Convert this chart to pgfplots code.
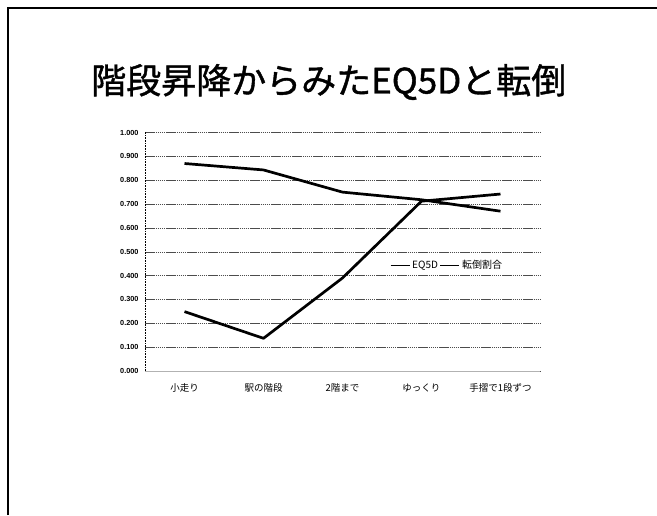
\documentclass[border=0pt]{standalone}
\usepackage{pgfplots}
\pgfplotsset{compat=1.18}
\usepackage{fontspec}
\setmainfont{Liberation Sans}
\newfontfamily\jp{Noto Sans CJK JP}
\newfontfamily\jpt[FakeBold=1.2]{Noto Sans CJK JP}
\begin{document}
\begin{tikzpicture}[x=1pt,y=1pt]
\useasboundingbox (0,0) rectangle (657,515);
% slide frame
\draw[line width=1.6pt] (8,0) -- (8,507) -- (657,507);
% title
\node[anchor=west,inner sep=0pt] at (91,433) {\jpt\fontsize{35}{38}\selectfont 階段昇降からみたEQ5Dと転倒};
\begin{axis}[
  at={(145pt,144pt)}, anchor=south west,
  scale only axis, width=395pt, height=238.5pt,
  xmin=-0.5, xmax=4.5, ymin=0, ymax=1,
  xtick={0,1,2,3,4},
  xticklabels={小走り,駅の階段,2階まで,ゆっくり,手摺で1段ずつ},
  xticklabel style={font=\jp\fontsize{9.5}{11}\selectfont, yshift=-9pt},
  major x tick style={draw=none},
  extra x ticks={0.5,1.5,2.5,3.5},
  extra x tick labels={},
  extra x tick style={grid=none, major tick length=3pt, tick align=outside, tick style={draw=gray!60, line width=0.6pt}},
  ytick={0,0.1,...,1.0},
  yticklabel style={font=\bfseries\fontsize{7.3}{8}\selectfont, xshift=-3pt},
  /pgf/number format/.cd, fixed, fixed zerofill, precision=3, assume math mode=true,
  /pgfplots/.cd,
  major y tick style={draw=none},
  ymajorgrids,
  major grid style={black!70, line width=0.5pt, dash pattern=on 1.5pt off 0.6pt},
  axis line style={draw=none},
  clip=false,
  legend style={draw=none, fill=none, at={(0.62,0.444)}, anchor=west,
    font=\jp\fontsize{10}{11}\selectfont, inner sep=0pt,
    /tikz/every even column/.append style={column sep=0pt}},
  legend columns=2,
  legend image code/.code={\draw[line width=1.1pt] (0pt,0pt) -- (19pt,0pt);},
]
% left axis dotted line and bottom axis line
\draw[black, line width=0.8pt, dash pattern=on 0.8pt off 0.8pt] (rel axis cs:0,0) -- (rel axis cs:0,1);
\draw[gray!60, line width=0.8pt] (rel axis cs:0,0) -- (rel axis cs:1,0);
\addplot[black, line width=2.7pt, line join=round] coordinates {
  (0,0.870) (1,0.843) (2,0.750) (3,0.718) (4,0.670)};
\addlegendentry{EQ5D}
\addplot[black, line width=2.7pt, line join=round] coordinates {
  (0,0.249) (1,0.137) (2,0.390) (3,0.712) (4,0.742)};
\addlegendentry{転倒割合}
\end{axis}
\end{tikzpicture}
\end{document}
